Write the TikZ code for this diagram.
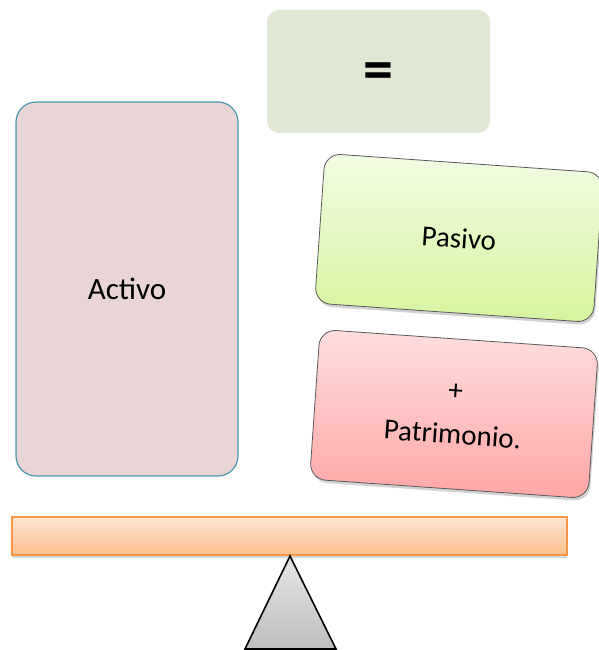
\documentclass[tikz,border=0pt]{standalone}
\usepackage{fontspec}
\setmainfont{Carlito}
\usetikzlibrary{shadows}
\definecolor{eqfill}{HTML}{E0E7D2}
\definecolor{actfill}{HTML}{E9D5D5}
\definecolor{actline}{HTML}{4B98AF}
\definecolor{pastop}{HTML}{F2FCE4}
\definecolor{pasbot}{HTML}{D5F59E}
\definecolor{pattop}{HTML}{FFDEDE}
\definecolor{patbot}{HTML}{FFA6A6}
\definecolor{beamtop}{HTML}{FDE5D2}
\definecolor{beambot}{HTML}{FBBF8C}
\definecolor{beamline}{HTML}{F79646}
\definecolor{tritop}{HTML}{E6E6E6}
\definecolor{tribot}{HTML}{BEBEBE}
\tikzset{
  card/.style={draw=black!65, line width=0.8pt, rounded corners=16pt, minimum width=279pt, minimum height=150pt, align=center,
    drop shadow={shadow xshift=1.5pt, shadow yshift=-3pt, fill=black!35, opacity=0.5}},
}
\begin{document}
\begin{tikzpicture}[x=1pt,y=-1pt]
\useasboundingbox (0,0) rectangle (599,650);
% equals box
\node[fill=eqfill, rounded corners=12pt, minimum width=223pt, minimum height=123pt, inner sep=0pt,
  font=\fontsize{60}{66}\selectfont\bfseries] (eq) at (378.5,71.5) {\raisebox{-18pt}[0pt][0pt]{=}};
% Activo
\node[fill=actfill, draw=actline, line width=1.2pt, rounded corners=20pt, minimum width=222pt, minimum height=374pt,
  font=\fontsize{31}{37}\selectfont] (act) at (127,289) {Activo};
% Pasivo
\node[card, top color=pastop, bottom color=pasbot, rotate=-4, font=\fontsize{29}{35}\selectfont] (pas) at (459,238) {Pasivo};
% Patrimonio
\node[card, top color=pattop, bottom color=patbot, rotate=-4, font=\fontsize{29}{44}\selectfont] (pat) at (454,414) {+\\Patrimonio.};
% beam
\node[draw=beamline, line width=1.2pt, top color=beamtop, bottom color=beambot, minimum width=555pt, minimum height=38pt, inner sep=0pt,
  drop shadow={shadow xshift=0pt, shadow yshift=-3pt, fill=black!30, opacity=0.5}] (beam) at (289.5,536) {};
% fulcrum
\coordinate (apex) at (290,556);
\coordinate (bl) at (245,649);
\coordinate (br) at (336,649);
\shade[top color=tritop, bottom color=tribot] (apex) -- (br) -- (bl) -- cycle;
\draw[line width=1.6pt, line join=miter] (apex) -- (br) -- (bl) -- cycle;
\end{tikzpicture}
\end{document}
